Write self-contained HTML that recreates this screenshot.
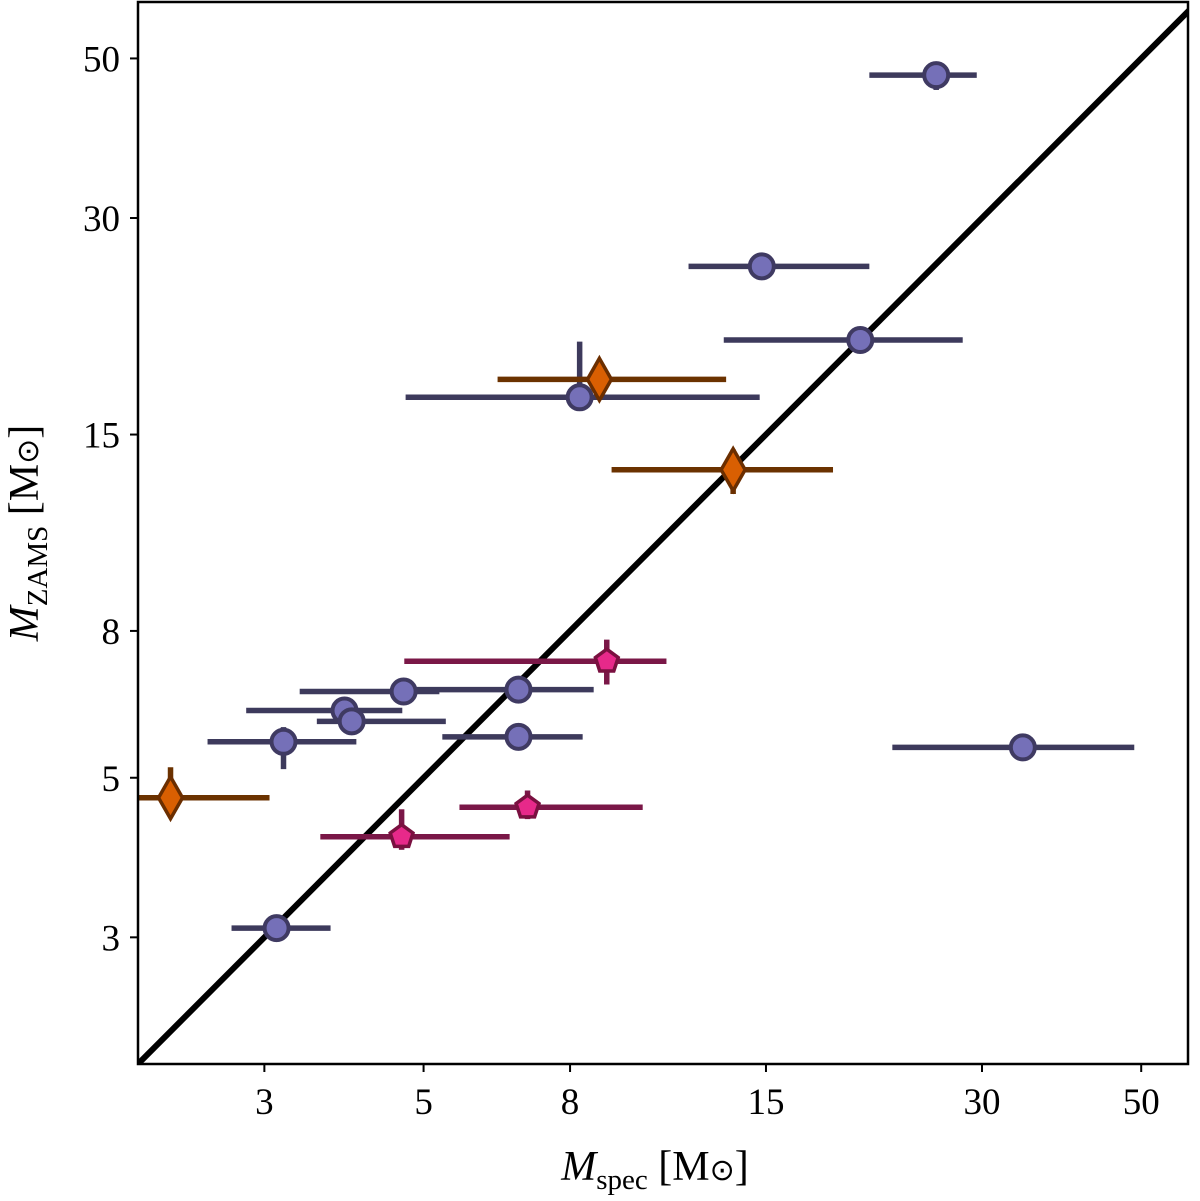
<!DOCTYPE html>
<html><head><meta charset="utf-8"><style>
html,body{margin:0;padding:0;background:#fff;}
svg{display:block;font-family:"Liberation Serif","DejaVu Serif",serif;}
</style></head><body>
<svg id="chart" width="1200" height="1201" viewBox="0 0 1200 1201">
<defs><clipPath id="clip"><rect x="138" y="2" width="1050" height="1062"/></clipPath></defs>
<g id="marks" clip-path="url(#clip)"></g>
<rect x="138" y="2" width="1050" height="1062" fill="none" stroke="#000" stroke-width="2.5"/>
<g id="axes"></g>
<text x="655" y="1180" text-anchor="middle" font-size="42"><tspan font-style="italic">M</tspan><tspan font-size="29" dy="9">spec</tspan><tspan dy="-9"> [M</tspan><tspan font-family="DejaVu Sans" font-size="30">⊙</tspan><tspan>]</tspan></text>
<text transform="translate(38,533) rotate(-90)" text-anchor="middle" font-size="42"><tspan font-style="italic">M</tspan><tspan font-size="29" dy="9">ZAMS</tspan><tspan dy="-9"> [M</tspan><tspan font-family="DejaVu Sans" font-size="30">⊙</tspan><tspan>]</tspan></text>
</svg>
<script>
const xTicks=[3,5,8,15,30,50];
const yTicks=[3,5,8,15,30,50];
const kinds=['c','c','c','c','d','d','p','c','c','c','c','c','c','c','d','p','p','c'];
const xVals=[25.9,14.8,20.3,8.25,8.79,13.5,9.0,6.78,4.69,3.88,3.97,3.19,6.78,34.2,2.22,6.98,4.66,3.12];
const xLo=[20.9,11.7,13.1,4.72,6.34,9.14,4.70,4.67,3.36,2.83,3.55,2.50,5.31,22.5,1.9,5.61,3.59,2.70];
const xHi=[29.5,20.9,28.2,14.7,13.2,18.6,10.9,8.63,5.26,4.67,5.37,4.03,8.33,48.9,3.05,10.1,6.59,3.71];
const yVals=[47.4,25.7,20.3,16.9,17.9,13.4,7.26,6.63,6.59,6.20,5.99,5.61,5.70,5.51,4.69,4.55,4.14,3.09];
const yLo=[45.2,25.7,20.3,16.6,16.8,12.4,6.74,6.63,6.59,6.20,5.99,5.14,5.70,5.51,4.47,4.38,3.97,3.09];
const yHi=[48.5,25.7,20.3,20.2,19.0,14.3,7.78,6.63,6.59,6.20,5.99,5.88,5.70,5.51,5.17,4.80,4.52,3.09];
const X0=138,X1=1188,Y0=1064,Y1=2;
const lxMin=Math.log10(2.0),lxMax=Math.log10(58.1),lyMin=Math.log10(2.0),lyMax=Math.log10(59.9);
const sx=v=>X0+(Math.log10(v)-lxMin)/(lxMax-lxMin)*(X1-X0);
const sy=v=>Y0-(Math.log10(v)-lyMin)/(lyMax-lyMin)*(Y0-Y1);
const NS='http://www.w3.org/2000/svg';
function mk(tag,attrs,parent){const e=document.createElementNS(NS,tag);for(const k in attrs)e.setAttribute(k,attrs[k]);parent.appendChild(e);return e;}
const axes=document.getElementById('axes'),marks=document.getElementById('marks');
xTicks.forEach(t=>{const x=sx(t);
 const l=mk('line',{x1:x,x2:x,y1:Y0,y2:Y0+8,stroke:'#000','stroke-width':2},axes);
 
 
 const tx=mk('text',{x:x,y:Y0+50,'text-anchor':'middle','font-size':37},axes);tx.textContent=t;
 
 });
yTicks.forEach(t=>{const y=sy(t);
 const l=mk('line',{x1:X0-8,x2:X0,y1:y,y2:y,stroke:'#000','stroke-width':2},axes);
 
 
 const tx=mk('text',{x:X0-18,y:y+13,'text-anchor':'end','font-size':37},axes);tx.textContent=t;
 
 });
const diag=mk('line',{x1:sx(2),y1:sy(2),x2:sx(60),y2:sy(60),stroke:'#000','stroke-width':6},marks);


const col={c:{f:'#7570b8',e:'#3f3a62',b:'#3d3a5c'},d:{f:'#d95f02',e:'#6b2e00',b:'#6b3200'},p:{f:'#e7298a',e:'#7a1040',b:'#7a1747'}};
kinds.forEach((k,i)=>{const c=col[k];const x=sx(xVals[i]),y=sy(yVals[i]);
 const g=mk('g',{},marks);
 
 
 mk('line',{x1:sx(xLo[i]),x2:sx(xHi[i]),y1:y,y2:y,stroke:c.b,'stroke-width':5.5},g);
 if(yHi[i]!==yLo[i]) mk('line',{x1:x,x2:x,y1:sy(yLo[i]),y2:sy(yHi[i]),stroke:c.b,'stroke-width':5.5},g);
 if(k==='c') mk('circle',{cx:x,cy:y,r:12,fill:c.f,stroke:c.e,'stroke-width':4},g);
 else if(k==='d') mk('polygon',{points:`${x},${y-21} ${x+12},${y} ${x},${y+21} ${x-12},${y}`,fill:c.f,stroke:c.e,'stroke-width':3.5},g);
 else {let p=[];for(let j=0;j<5;j++){const a=-Math.PI/2+j*2*Math.PI/5;p.push((x+12*Math.cos(a)).toFixed(1)+','+(y+12*Math.sin(a)).toFixed(1));}
  mk('polygon',{points:p.join(' '),fill:c.f,stroke:c.e,'stroke-width':3.5},g);}
});
</script>
</body></html>
